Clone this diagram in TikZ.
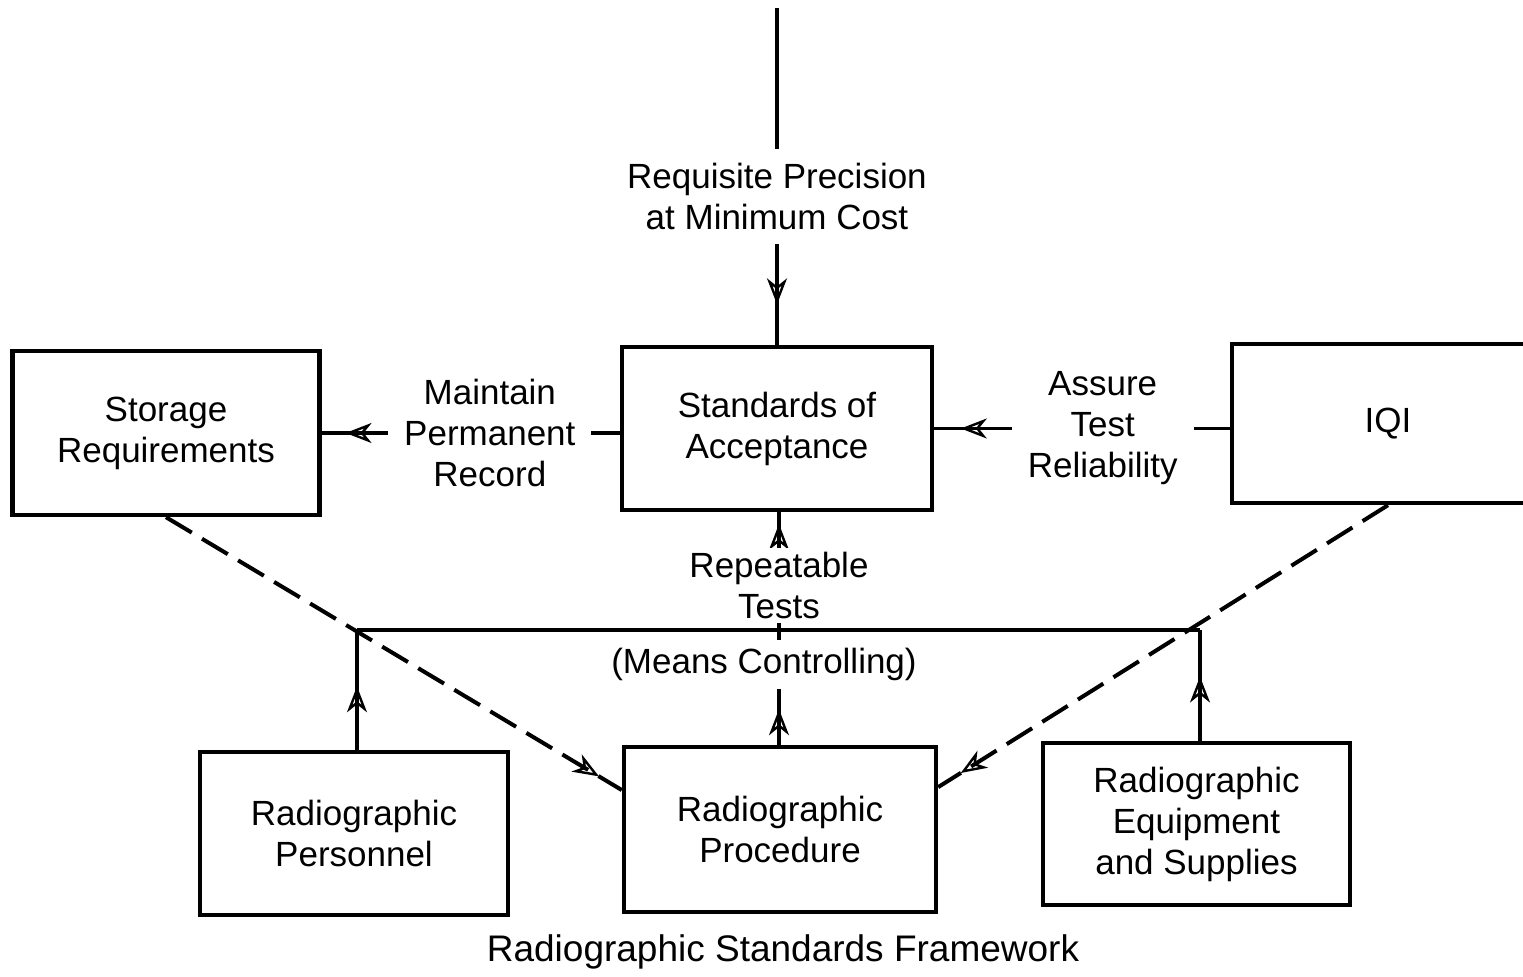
\documentclass[tikz,border=0pt]{standalone}
\usepackage{fontspec}
\setmainfont{Liberation Sans}
\usetikzlibrary{arrows.meta, decorations.markings}

\begin{document}
\begin{tikzpicture}[
    x=0.5pt, y=-0.5pt,
    stdbox/.style={draw, line width=2.2pt, align=center, font=\fontsize{17.5}{20.5}\selectfont},
    flowlabel/.style={fill=white, align=center, inner xsep=8pt, inner ysep=2pt, font=\fontsize{17.5}{20.5}\selectfont},
    flowline/.style={line width=1.6pt},
    dashline/.style={line width=2pt, dash pattern=on 15pt off 6pt},
    tipat/.style={postaction={decorate}, decoration={markings, mark=at position #1 with {\arrow{Stealth[open, length=13pt, width=10pt, inset=4pt, line width=1.2pt]}}}}
]
    \useasboundingbox (0,0) rectangle (1523,977);

    % Upper row
    \node[stdbox, minimum width=153.5pt, minimum height=82pt] (stor) at (166,433) {Storage\\Requirements};
    \node[stdbox, minimum width=155pt, minimum height=81.5pt] (std) at (777,428.5) {Standards of\\Acceptance};
    \node[stdbox, minimum width=156pt, minimum height=79.5pt] (iqi) at (1388,423.5) {IQI};

    % Lower row
    \node[stdbox, minimum width=154pt, minimum height=81.5pt] (pers) at (354,833.5) {Radiographic\\Personnel};
    \node[stdbox, minimum width=156pt, minimum height=82.5pt] (proc) at (780,829.5) {Radiographic\\Procedure};
    \node[stdbox, minimum width=153.5pt, minimum height=81pt] (equip) at (1196.5,824) {Radiographic\\Equipment\\and Supplies};

    \coordinate (topend) at (777,8);
    \coordinate (barL) at (357,630);
    \coordinate (barM) at (779,630);
    \coordinate (barR) at (1200,630);

    % Solid connectors
    \draw[flowline, tipat=0.88] (topend) -- node[flowlabel, pos=0.56, inner ysep=7pt] {Requisite Precision\\at Minimum Cost} (std.north);
    \draw[flowline, tipat=0.92] (stor.east -| std.west) -- node[flowlabel, pos=0.436] {Maintain\\Permanent\\Record} (stor.east);
    \draw[flowline, tipat=0.91] (std.east -| iqi.west) -- node[flowlabel, pos=0.43] {Assure\\Test\\Reliability} (std.east);
    \draw[flowline] (barL) -- (barR);
    \draw[flowline, tipat=0.53] (pers.north -| barL) -- (barL);
    \draw[flowline, tipat=0.58] (equip.north -| barR) -- (barR);
    \draw[flowline, tipat=0.31] (proc.north -| barM) -- node[flowlabel, pos=0.70, inner ysep=4pt, xshift=-7.5pt] {(Means Controlling)} (barM);
    \draw[flowline, tipat=0.9] (barM) -- node[flowlabel, pos=0.375] {Repeatable\\Tests} (barM |- std.south);

    % Dashed connectors
    \draw[dashline, tipat=0.95] (stor.south) -- (proc.166);
    \draw[dashline, tipat=0.95] (iqi.south) -- (proc.15);

    \node[font=\fontsize{18.5}{22}\selectfont] (caption) at (783,952) {Radiographic Standards Framework};
\end{tikzpicture}
\end{document}
